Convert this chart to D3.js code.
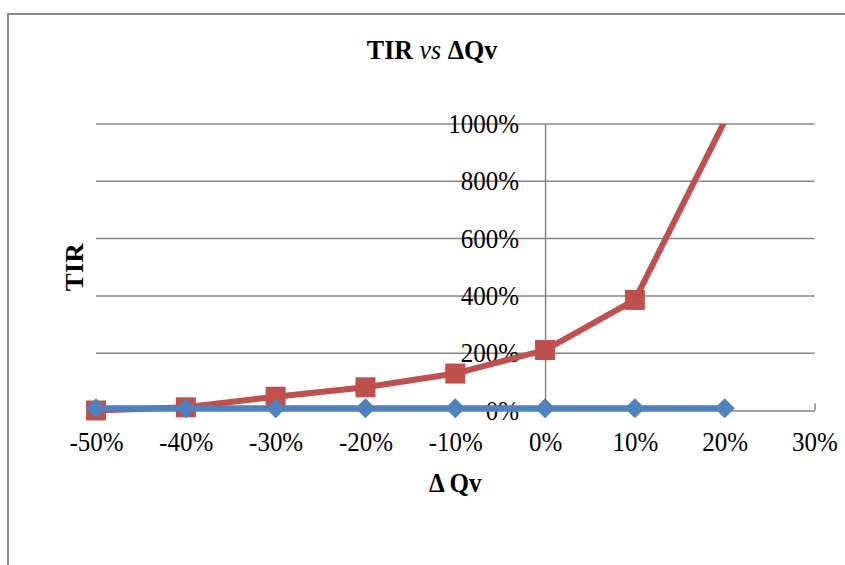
<!DOCTYPE html>
<html>
<head>
<meta charset="utf-8">
<script src="https://cdn.jsdelivr.net/npm/d3@7"></script>
<style>
  html, body { margin: 0; padding: 0; background: #fff; }
  svg { display: block; font-family: "Liberation Serif", "Times New Roman", serif; }
</style>
</head>
<body>
<svg id="chart" width="845" height="565"></svg>
<script>
// ΔQv variation (x) and TIR for both series
const deltaQv = [-0.5, -0.4, -0.3, -0.2, -0.1, 0.0, 0.1, 0.2];
const tirRed  = [0.00, 0.11, 0.48, 0.81, 1.29, 2.11, 3.86, 10.10];
const tirBlue = [0.08, 0.08, 0.08, 0.08, 0.08, 0.08, 0.08, 0.08];
const xTicks = [-0.5, -0.4, -0.3, -0.2, -0.1, 0.0, 0.1, 0.2, 0.3];
const yTicks = [0, 2, 4, 6, 8, 10];

const svg = d3.select("#chart");
const W = 845, H = 565;
const plot = { left: 96, right: 814.5, top: 124, bottom: 410.5 };
const stretch = 1.08; // slightly tall serif lettering

// chart frame
svg.append("rect")
  .attr("x", 8).attr("y", 14)
  .attr("width", W + 20).attr("height", H + 20)
  .attr("fill", "#fff").attr("stroke", "#8a8a8a").attr("stroke-width", 2);

const x = d3.scaleLinear().domain([-0.5, 0.3]).range([plot.left, plot.right]);
const y = d3.scaleLinear().domain([0, 10]).range([plot.bottom, plot.top]);
const pct = d => Math.round(d * 100) + "%";

// horizontal gridlines
svg.append("g")
  .selectAll("line")
  .data(yTicks.filter(d => d > 0))
  .join("line")
  .attr("x1", plot.left).attr("x2", plot.right)
  .attr("y1", d => y(d)).attr("y2", d => y(d))
  .attr("stroke", "#868686").attr("stroke-width", 1.5);

// vertical value axis crossing at ΔQv = 0
const yAxis = d3.axisLeft(y).tickValues(yTicks).tickFormat(pct).tickSize(0).tickPadding(26);
const gy = svg.append("g").attr("transform", `translate(${x(0)},0)`).call(yAxis);
gy.select(".domain").attr("stroke", "#868686").attr("stroke-width", 1.5);
gy.selectAll("text")
  .attr("font-size", 25).attr("fill", "#000")
  .attr("font-family", "Liberation Serif")
  .attr("transform", `scale(1,${stretch})`);

// horizontal category axis at TIR = 0
const xAxis = d3.axisBottom(x).tickValues(xTicks).tickFormat(pct).tickSize(0).tickPadding(20);
const gx = svg.append("g").attr("transform", `translate(0,${y(0)})`).call(xAxis);
gx.select(".domain").attr("stroke", "#868686").attr("stroke-width", 1.5);
gx.selectAll("text")
  .attr("font-size", 25).attr("fill", "#000")
  .attr("font-family", "Liberation Serif")
  .attr("transform", `scale(1,${stretch})`);
gx.selectAll(".tick").append("line")
  .attr("y1", 0).attr("y2", -7)
  .attr("stroke", "#868686").attr("stroke-width", 1.5);

// clip region for the series
svg.append("clipPath").attr("id", "plotClip")
  .append("rect")
  .attr("x", plot.left - 20).attr("y", plot.top)
  .attr("width", plot.right - plot.left + 40)
  .attr("height", plot.bottom - plot.top + 20);

const line = d3.line().x(d => x(d[0])).y(d => y(d[1]));
const series = [
  { values: tirRed,  color: "#C0504D", marker: "square" },
  { values: tirBlue, color: "#4F81BD", marker: "diamond" }
];

series.forEach(s => {
  const pts = deltaQv.map((q, i) => [q, s.values[i]]);
  const g = svg.append("g").attr("clip-path", "url(#plotClip)");
  g.append("path")
    .datum(pts)
    .attr("d", line)
    .attr("fill", "none")
    .attr("stroke", s.color)
    .attr("stroke-width", 6)
    .attr("stroke-linejoin", "round");

  const inRange = pts.filter(p => p[1] <= 10);
  if (s.marker === "square") {
    g.selectAll("rect.m")
      .data(inRange).join("rect")
      .attr("class", "m")
      .attr("x", p => x(p[0]) - 10).attr("y", p => y(p[1]) - 10)
      .attr("width", 20).attr("height", 20)
      .attr("fill", s.color);
  } else {
    const sym = d3.symbol().type(d3.symbolSquare).size(200);
    g.selectAll("path.m")
      .data(inRange).join("path")
      .attr("class", "m")
      .attr("d", sym)
      .attr("transform", p => `translate(${x(p[0])},${y(p[1])}) rotate(45)`)
      .attr("fill", s.color);
  }
});

// titles
const title = svg.append("text")
  .attr("transform", `translate(432,59) scale(1,${stretch})`)
  .attr("text-anchor", "middle")
  .attr("font-size", 26).attr("font-weight", "bold");
title.append("tspan").text("TIR ");
title.append("tspan").attr("font-style", "italic").attr("font-weight", "normal").text("vs");
title.append("tspan").text(" ΔQv");

svg.append("text")
  .attr("transform", `translate(${(plot.left + plot.right) / 2},492) scale(1,${stretch})`)
  .attr("text-anchor", "middle")
  .attr("font-size", 25).attr("font-weight", "bold")
  .text("Δ Qv");

svg.append("text")
  .attr("transform", `translate(83,${(plot.top + plot.bottom) / 2}) rotate(-90) scale(${stretch},1)`)
  .attr("text-anchor", "middle")
  .attr("font-size", 25).attr("font-weight", "bold")
  .text("TIR");
</script>
</body>
</html>
